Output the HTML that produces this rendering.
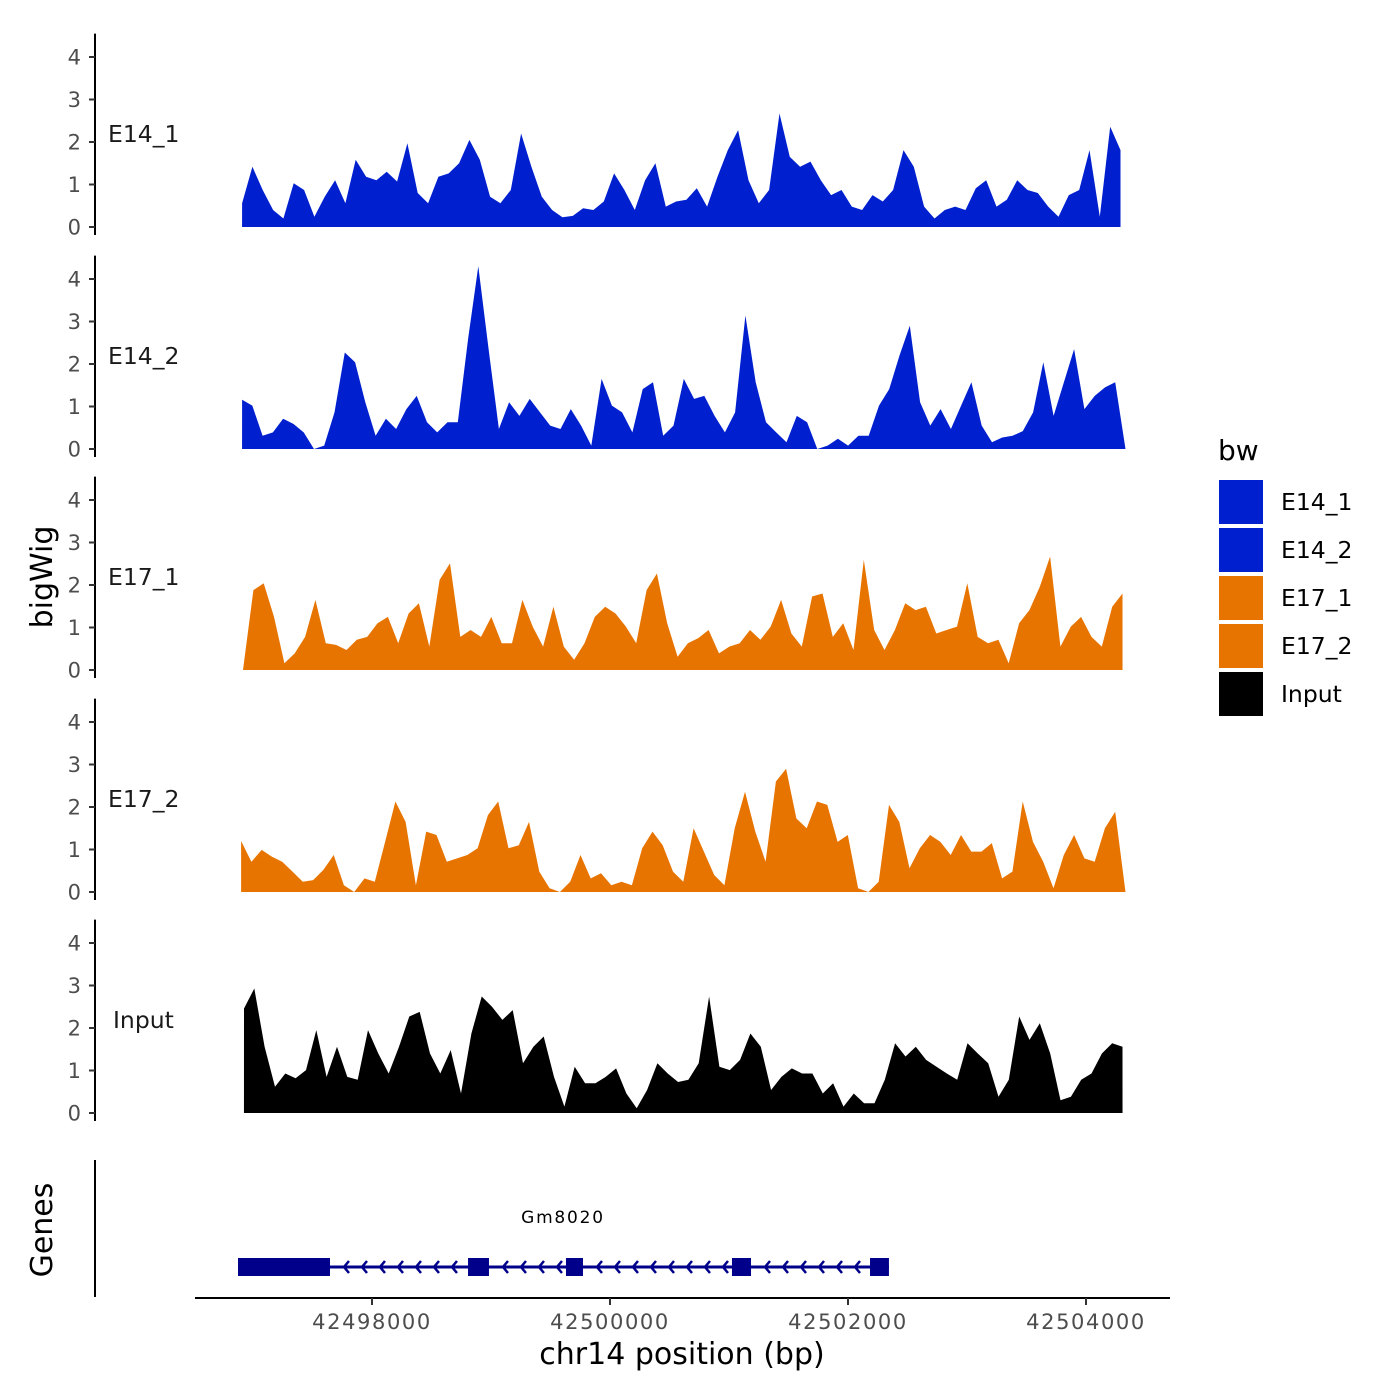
<!DOCTYPE html>
<html><head><meta charset="utf-8"><style>
body{margin:0;background:#fff}
svg{display:block;font-family:"DejaVu Sans","Liberation Sans",sans-serif}
</style></head><body>
<svg id="c" width="1400" height="1400" viewBox="0 0 1400 1400"></svg>
<script>
const trackNames=["E14_1","E14_2","E17_1","E17_2","Input"];
const trackColors=["#0020d0","#0020d0","#e87400","#e87400","#000000"];
const trackStartBp=[42496908,42496908,42496916,42496900,42496924];
const trackEndBp=[42504290,42504332,42504307,42504332,42504307];
const e14_1=[0.56,1.42,0.87,0.4,0.2,1.03,0.87,0.24,0.71,1.1,0.56,1.58,1.18,1.1,1.3,1.07,1.97,0.8,0.56,1.18,1.26,1.5,2.05,1.58,0.71,0.56,0.87,2.2,1.42,0.71,0.4,0.23,0.26,0.44,0.4,0.6,1.26,0.87,0.4,1.1,1.5,0.48,0.6,0.64,0.91,0.48,1.18,1.81,2.28,1.1,0.56,0.87,2.67,1.65,1.42,1.54,1.1,0.75,0.87,0.48,0.4,0.75,0.6,0.87,1.81,1.42,0.48,0.2,0.4,0.48,0.4,0.91,1.1,0.48,0.64,1.1,0.87,0.8,0.48,0.24,0.75,0.87,1.81,0.24,2.36,1.81];
const e14_2=[1.16,1.02,0.31,0.39,0.71,0.59,0.39,0,0.08,0.86,2.27,2.04,1.1,0.31,0.71,0.47,0.94,1.25,0.63,0.39,0.63,0.63,2.59,4.3,2.35,0.47,1.1,0.78,1.18,0.86,0.55,0.47,0.94,0.55,0.08,1.65,1.02,0.86,0.39,1.41,1.57,0.31,0.55,1.65,1.18,1.25,0.78,0.39,0.86,3.14,1.57,0.63,0.39,0.16,0.78,0.63,0,0.08,0.24,0.08,0.31,0.31,1.02,1.41,2.2,2.9,1.1,0.55,0.94,0.47,1.02,1.57,0.55,0.16,0.27,0.31,0.42,0.86,2.04,0.78,1.57,2.35,0.94,1.25,1.45,1.57,0];
const e17_1=[0,1.88,2.04,1.25,0.16,0.39,0.78,1.65,0.63,0.59,0.47,0.71,0.78,1.1,1.25,0.63,1.33,1.57,0.55,2.12,2.51,0.78,0.94,0.78,1.25,0.63,0.63,1.65,1.02,0.55,1.49,0.55,0.24,0.63,1.25,1.49,1.33,1.02,0.63,1.88,2.27,1.1,0.31,0.63,0.75,0.94,0.39,0.55,0.63,0.94,0.71,1.02,1.65,0.86,0.55,1.73,1.8,0.78,1.1,0.47,2.59,0.94,0.47,0.94,1.57,1.41,1.49,0.86,0.94,1.02,2.04,0.78,0.63,0.71,0.16,1.1,1.41,1.96,2.67,0.55,1.02,1.25,0.78,0.55,1.49,1.8];
const e17_2=[1.2,0.71,0.99,0.83,0.71,0.48,0.24,0.28,0.52,0.87,0.16,0,0.32,0.24,1.18,2.13,1.65,0.16,1.42,1.34,0.71,0.79,0.87,1.03,1.81,2.13,1.03,1.1,1.65,0.48,0.09,0,0.24,0.87,0.32,0.44,0.16,0.24,0.16,1.03,1.42,1.1,0.48,0.24,1.5,0.95,0.4,0.16,1.5,2.36,1.42,0.71,2.6,2.9,1.73,1.5,2.13,2.05,1.18,1.34,0.09,0,0.24,2.05,1.65,0.56,1.03,1.34,1.18,0.87,1.34,0.95,0.95,1.15,0.32,0.48,2.13,1.18,0.71,0.09,0.87,1.34,0.79,0.71,1.5,1.89,0];
const inputVals=[2.46,2.93,1.56,0.62,0.93,0.82,1.01,1.95,0.85,1.56,0.85,0.78,1.95,1.4,0.93,1.56,2.27,2.38,1.4,0.93,1.48,0.46,1.87,2.74,2.5,2.19,2.42,1.17,1.56,1.8,0.85,0.15,1.09,0.7,0.7,0.85,1.05,0.46,0.11,0.54,1.17,0.93,0.73,0.78,1.17,2.74,1.09,1.01,1.25,1.87,1.56,0.54,0.85,1.05,0.93,0.93,0.46,0.7,0.15,0.46,0.23,0.23,0.78,1.64,1.33,1.56,1.25,1.09,0.93,0.78,1.64,1.4,1.17,0.38,0.78,2.27,1.72,2.11,1.4,0.3,0.38,0.78,0.93,1.4,1.64,1.56];
const trackValues=[e14_1,e14_2,e17_1,e17_2,inputVals];
const yTicks=[0,1,2,3,4];
const xTicks=[42498000,42500000,42502000,42504000];
const xTickLabels=["42498000","42500000","42502000","42504000"];
const exonStarts=[42496874,42498807,42499630,42501025,42502185];
const exonEnds=[42497647,42498983,42499773,42501185,42502344];
const geneName="Gm8020";

const NS="http://www.w3.org/2000/svg";
const svg=document.getElementById("c");
function mk(t,a,p){const e=document.createElementNS(NS,t);for(const k in a)e.setAttribute(k,a[k]);(p||svg).appendChild(e);return e;}
const xScale=bp=>372+(bp-42498000)*0.119;
const baselines=[227,449,670,892,1113];
const unit=42.5;

trackNames.forEach((nm,ti)=>{
  const g=mk("g",{});
  
  
  const b=baselines[ti];
  const yS=v=>b-v*unit;
  const ax=mk("line",{x1:95,x2:95,y1:yS(4.55),y2:b+8,stroke:"#000","stroke-width":2},g);
  
  
  yTicks.forEach(t=>{
    mk("line",{x1:89,x2:95,y1:yS(t),y2:yS(t),stroke:"#333","stroke-width":2},g);
    const tl=mk("text",{x:81,y:yS(t)+7.5,"text-anchor":"end","font-size":21,fill:"#4d4d4d"},g);
    tl.textContent=t;
    
    
  });
  const lab=mk("text",{x:ti===4?113:108,y:yS(2),"font-size":23.5,fill:"#1a1a1a"},g);
  lab.textContent=nm;
  
  
  const vals=trackValues[ti];
  const n=vals.length,s=trackStartBp[ti],e=trackEndBp[ti];
  let d="M"+xScale(s)+","+b;
  vals.forEach((v,i)=>{const bp=s+(e-s)*i/(n-1);d+=" L"+xScale(bp).toFixed(1)+","+yS(v).toFixed(1);});
  d+=" L"+xScale(e)+","+b+" Z";
  const a=mk("path",{d:d,fill:trackColors[ti]},g);
  
  
});

const yt=mk("text",{x:52,y:577,"font-size":30,"text-anchor":"middle",transform:"rotate(-90 52 577)",fill:"#000"});
yt.textContent="bigWig";



// genes
const gg=mk("g",{});


const gl=mk("line",{x1:95,x2:95,y1:1160,y2:1297,stroke:"#000","stroke-width":2},gg);


const gt=mk("text",{x:52,y:1230,"font-size":30,"text-anchor":"middle",transform:"rotate(-90 52 1230)"},gg);
gt.textContent="Genes";


const gx0=xScale(exonStarts[0]),gx1=xScale(exonEnds[exonEnds.length-1]);
const gline=mk("line",{x1:gx0,x2:gx1,y1:1267,y2:1267,stroke:"#00008b","stroke-width":3},gg);


for(let i=0;i<exonStarts.length-1;i++){
  const a=xScale(exonEnds[i]),c=xScale(exonStarts[i+1]);
  for(let x=a+14;x<c-6;x+=18){
    const ch=mk("path",{d:`M${x+5},${1261} L${x},${1267} L${x+5},${1273}`,fill:"none",stroke:"#00008b","stroke-width":2.5},gg);
    
    
  }
}
exonStarts.forEach((s,i)=>{
  const r=mk("rect",{x:xScale(s),y:1258,width:xScale(exonEnds[i])-xScale(s),height:18,fill:"#00008b"},gg);
  
  
});
const gn=mk("text",{x:563,y:1223,"font-size":17,"letter-spacing":1.8,"text-anchor":"middle"},gg);
gn.textContent=geneName;



// x axis
const xa=mk("line",{x1:195,x2:1170,y1:1298,y2:1298,stroke:"#000","stroke-width":2});


xTicks.forEach((t,i)=>{
  mk("line",{x1:xScale(t),x2:xScale(t),y1:1298,y2:1305,stroke:"#333","stroke-width":2});
  const tl=mk("text",{x:xScale(t),y:1329,"font-size":21,"letter-spacing":1.6,"text-anchor":"middle",fill:"#4d4d4d"});
  tl.textContent=xTickLabels[i];
  
  
});
const xt=mk("text",{x:682,y:1364,"font-size":30,"text-anchor":"middle"});
xt.textContent="chr14 position (bp)";



// legend
const lg=mk("g",{});


const lt=mk("text",{x:1218,y:460,"font-size":28},lg);
lt.textContent="bw";


trackNames.forEach((nm,i)=>{
  const y=480+i*48;
  const k=mk("rect",{x:1219,y:y,width:44,height:44,fill:trackColors[i]},lg);
  
  
  const t=mk("text",{x:1281,y:y+30,"font-size":23.5},lg);
  t.textContent=nm;
  
  
});
</script>
</body></html>
